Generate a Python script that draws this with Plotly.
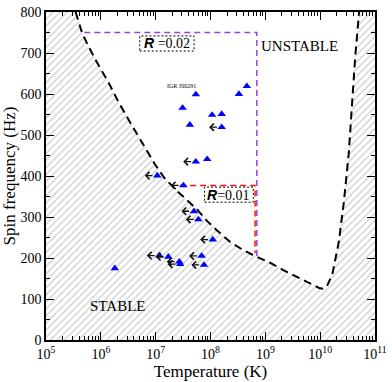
import numpy as np
import plotly.graph_objects as go

# r-mode instability window boundary (log10 T [K], spin frequency [Hz])
curve_log_t = [5.54, 5.66, 5.78, 5.90, 6.14, 6.32, 6.56, 6.77, 6.98, 7.16, 7.37,
               7.58, 7.76, 7.94, 8.12, 8.36, 8.60, 8.84, 9.08, 9.32, 9.56, 9.80,
               9.98, 10.05, 10.12, 10.22, 10.34, 10.43, 10.52, 10.58, 10.64, 10.71]
curve_freq = [800, 748, 715, 684, 628, 581, 525, 477, 430, 395, 366,
              340, 318, 290, 267, 239, 219, 203, 189, 171, 155, 139,
              127, 125, 130, 159, 239, 334, 453, 573, 692, 800]

# LMXB sources: temperature (K), spin frequency (Hz), upper limit on T
src_temp = [5.4e7, 4.6e8, 3.3e8, 3.1e7, 1.07e8, 1.6e8, 4.2e7, 1.6e8, 5.4e7, 8.7e7,
            1.07e7, 3.2e7, 5.0e7, 6.0e7, 1.1e8, 6.9e7, 7.6e7, 1.17e7, 1.7e7,
            2.7e7, 2.8e7, 1.8e6]
src_freq = [599, 619, 600, 566, 549, 551, 525, 519, 435, 441,
            401, 377, 314, 294, 245, 205, 183, 206, 203,
            191, 185, 175]
src_upper = [False, False, False, False, False, False, False, True, True, False,
             True, True, True, True, True, True, True, True, True,
             True, True, False]

# dashed boundaries for R = 0.02 and R = 0.01
r002_temp = [5.0e5, 7.0e8, 7.0e8]
r002_freq = [750, 750, 197]
r001_temp = [2.8e7, 6.5e8, 6.5e8]
r001_freq = [377, 377, 212]

x_ticks = [1e5, 1e6, 1e7, 1e8, 1e9, 1e10, 1e11]
x_ticktext = ["10<sup>%d</sup>" % e for e in range(5, 12)]

SERIF = "Liberation Serif"

fig = go.Figure()

# hatched stable region (outside the window)
curve_t = [10 ** v for v in curve_log_t]
fig.add_trace(go.Scatter(
    x=[1e5, 1e5] + curve_t + [1e11, 1e11],
    y=[0, 800] + curve_freq + [800, 0],
    fill="toself",
    mode="lines",
    line_width=0,
    fillcolor="white",
    fillpattern=dict(shape="/", fgcolor="#a8a8a8", bgcolor="white",
                     size=5, solidity=0.3),
    hoverinfo="skip",
))
fig.add_trace(go.Scatter(
    x=curve_t, y=curve_freq, mode="lines",
    line=dict(color="black", width=2, dash="8px,5px"),
    hoverinfo="skip",
))
fig.add_trace(go.Scatter(
    x=r002_temp, y=r002_freq, mode="lines",
    line=dict(color="#9446d8", width=1.5, dash="6px,4px"),
))
fig.add_trace(go.Scatter(
    x=r001_temp, y=r001_freq, mode="lines",
    line=dict(color="#ff1010", width=1.5, dash="6px,4px"),
))
fig.add_trace(go.Scatter(
    x=src_temp, y=src_freq, mode="markers",
    marker=dict(symbol="triangle-up", size=7.5, color="#0000ff"),
))

# arrows for temperature upper limits
for t, f, up in zip(src_temp, src_freq, src_upper):
    if not up:
        continue
    lt = np.log10(t)
    fig.add_annotation(
        x=lt - 0.23, y=f, ax=lt - 0.06, ay=f,
        xref="x", yref="y", axref="x", ayref="y",
        text="", showarrow=True, arrowhead=4, arrowsize=1.1,
        arrowwidth=1.3, arrowcolor="#111111",
    )

fig.add_annotation(x=np.log10(src_temp[0]) - 0.26, y=src_freq[0] + 21,
                   text="IGR J00291", showarrow=False,
                   font=dict(family=SERIF, size=6, color="black"))
fig.add_annotation(x=9.63, y=716, text="UNSTABLE", showarrow=False,
                   font=dict(family=SERIF, size=15, color="black"))
fig.add_annotation(x=6.30, y=82, text="STABLE", showarrow=False,
                   font=dict(family=SERIF, size=15, color="black"))

r_label = "<span style='font-family:Liberation Sans'><b><i>R</i></b></span>"
fig.add_annotation(xref="paper", yref="paper", x=0.368, y=0.904,
                   xanchor="center", yanchor="middle",
                   text=r_label + " =0.02", showarrow=False,
                   font=dict(family=SERIF, size=14, color="black"))
fig.add_annotation(xref="paper", yref="paper", x=0.556, y=0.443,
                   xanchor="center", yanchor="middle",
                   text=r_label + "=0.01", showarrow=False,
                   font=dict(family=SERIF, size=14, color="black"))
for x0, x1, y0, y1 in [(0.285, 0.450, 0.881, 0.927), (0.482, 0.630, 0.420, 0.466)]:
    fig.add_shape(type="rect", xref="paper", yref="paper",
                  x0=x0, x1=x1, y0=y0, y1=y1,
                  line=dict(color="black", width=1, dash="2px,2px"))

fig.update_xaxes(
    type="log", range=[5, 11],
    tickmode="array", tickvals=x_ticks, ticktext=x_ticktext,
    ticks="inside", ticklen=8, tickwidth=1.2, tickcolor="black",
    minor=dict(ticks="inside", ticklen=4, tickwidth=1, tickcolor="black",
               tickmode="array",
               tickvals=[k * 10 ** d for d in range(5, 11) for k in range(2, 10)],
               showgrid=False),
    showline=True, linecolor="black", linewidth=1.5, mirror="allticks",
    showgrid=False, zeroline=False, ticklabeloverflow="allow",
    tickfont=dict(family=SERIF, size=14, color="black"),
    title=dict(text="Temperature (K)", standoff=2,
               font=dict(family=SERIF, size=17, color="black")),
)
fig.update_yaxes(
    range=[0, 800], dtick=100,
    ticks="inside", ticklen=8, tickwidth=1.2, tickcolor="black",
    minor=dict(ticks="inside", ticklen=4, tickwidth=1, tickcolor="black",
               dtick=50, showgrid=False),
    showline=True, linecolor="black", linewidth=1.5, mirror="allticks",
    showgrid=False, zeroline=False, ticklabeloverflow="allow",
    tickfont=dict(family=SERIF, size=14, color="black"),
    title=dict(text="Spin frequency (Hz)", standoff=4,
               font=dict(family=SERIF, size=17, color="black")),
)
fig.update_layout(
    width=392, height=382,
    margin=dict(l=46, r=12, t=5, b=42),
    showlegend=False,
    plot_bgcolor="white", paper_bgcolor="white",
    hovermode=False,
)

fig.write_html("out.html", config={"displayModeBar": False},
               post_script="document.body.style.margin='0';")
